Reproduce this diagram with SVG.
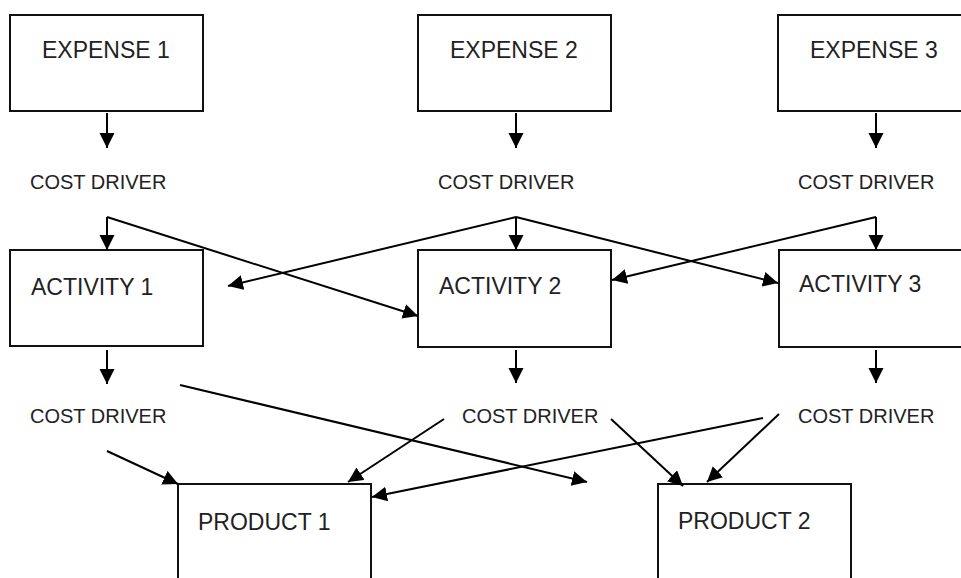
<svg xmlns="http://www.w3.org/2000/svg" width="961" height="578" viewBox="0 0 961 578">
  <style>
    .box { fill: none; stroke: #111; stroke-width: 2; }
    .lbl { font-family: "Liberation Sans", Arial, sans-serif; font-size: 23px; fill: #222; }
    .drv { font-family: "Liberation Sans", Arial, sans-serif; font-size: 20px; fill: #222; }
    .conn path { fill: none; stroke: #000; stroke-width: 2; marker-end: url(#arrow); }
  </style>
  <defs>
    <marker id="arrow" markerUnits="userSpaceOnUse" markerWidth="16" markerHeight="16" viewBox="0 0 16 16" refX="15" refY="7.5" orient="auto">
      <path d="M0,0 L15,7.5 L0,15 z" fill="#000"/>
    </marker>
  </defs>
  <rect width="961" height="578" fill="#fff"/>

  <!-- expenses -->
  <g id="expense1"><rect class="box" x="10" y="15" width="193" height="96"/><text class="lbl" x="42" y="58">EXPENSE 1</text></g>
  <g id="expense2"><rect class="box" x="418" y="15" width="193" height="96"/><text class="lbl" x="450" y="58">EXPENSE 2</text></g>
  <g id="expense3"><rect class="box" x="778" y="15" width="193" height="96"/><text class="lbl" x="810" y="58">EXPENSE 3</text></g>

  <!-- first cost drivers -->
  <g id="driver-e1"><text class="drv" x="30" y="189">COST DRIVER</text></g>
  <g id="driver-e2"><text class="drv" x="438" y="189">COST DRIVER</text></g>
  <g id="driver-e3"><text class="drv" x="798" y="189">COST DRIVER</text></g>

  <!-- activities -->
  <g id="activity1"><rect class="box" x="10" y="250" width="193" height="96"/><text class="lbl" x="31" y="295">ACTIVITY 1</text></g>
  <g id="activity2"><rect class="box" x="418" y="250" width="193" height="97"/><text class="lbl" x="439" y="294">ACTIVITY 2</text></g>
  <g id="activity3"><rect class="box" x="779" y="250" width="193" height="97"/><text class="lbl" x="799" y="292">ACTIVITY 3</text></g>

  <!-- second cost drivers -->
  <g id="driver-a1"><text class="drv" x="30" y="423">COST DRIVER</text></g>
  <g id="driver-a2"><text class="drv" x="462" y="423">COST DRIVER</text></g>
  <g id="driver-a3"><text class="drv" x="798" y="423">COST DRIVER</text></g>

  <!-- products -->
  <g id="product1"><rect class="box" x="178" y="484" width="193" height="110"/><text class="lbl" x="198" y="530">PRODUCT 1</text></g>
  <g id="product2"><rect class="box" x="658" y="484" width="193" height="110"/><text class="lbl" x="678" y="529">PRODUCT 2</text></g>

  <g id="connectors" class="conn">
    <path d="M107,113 L107,148"/>
    <path d="M516,113 L516,148"/>
    <path d="M876,113 L876,148"/>

    <path d="M107,217 L107,250"/>
    <path d="M107,217 L418,316"/>
    <path d="M516,217 L516,250"/>
    <path d="M516,217 L228,286"/>
    <path d="M516,217 L778,283"/>
    <path d="M876,217 L876,250"/>
    <path d="M876,217 L612,280"/>

    <path d="M107,350 L107,384"/>
    <path d="M516,350 L516,383"/>
    <path d="M876,350 L876,383"/>

    <path d="M107,451 L178,484"/>
    <path d="M180,385 L587,482"/>
    <path d="M444,419 L348,482"/>
    <path d="M763,418 L372,497"/>
    <path d="M611,419 L683,486"/>
    <path d="M779,414 L707,482"/>
  </g>
</svg>
